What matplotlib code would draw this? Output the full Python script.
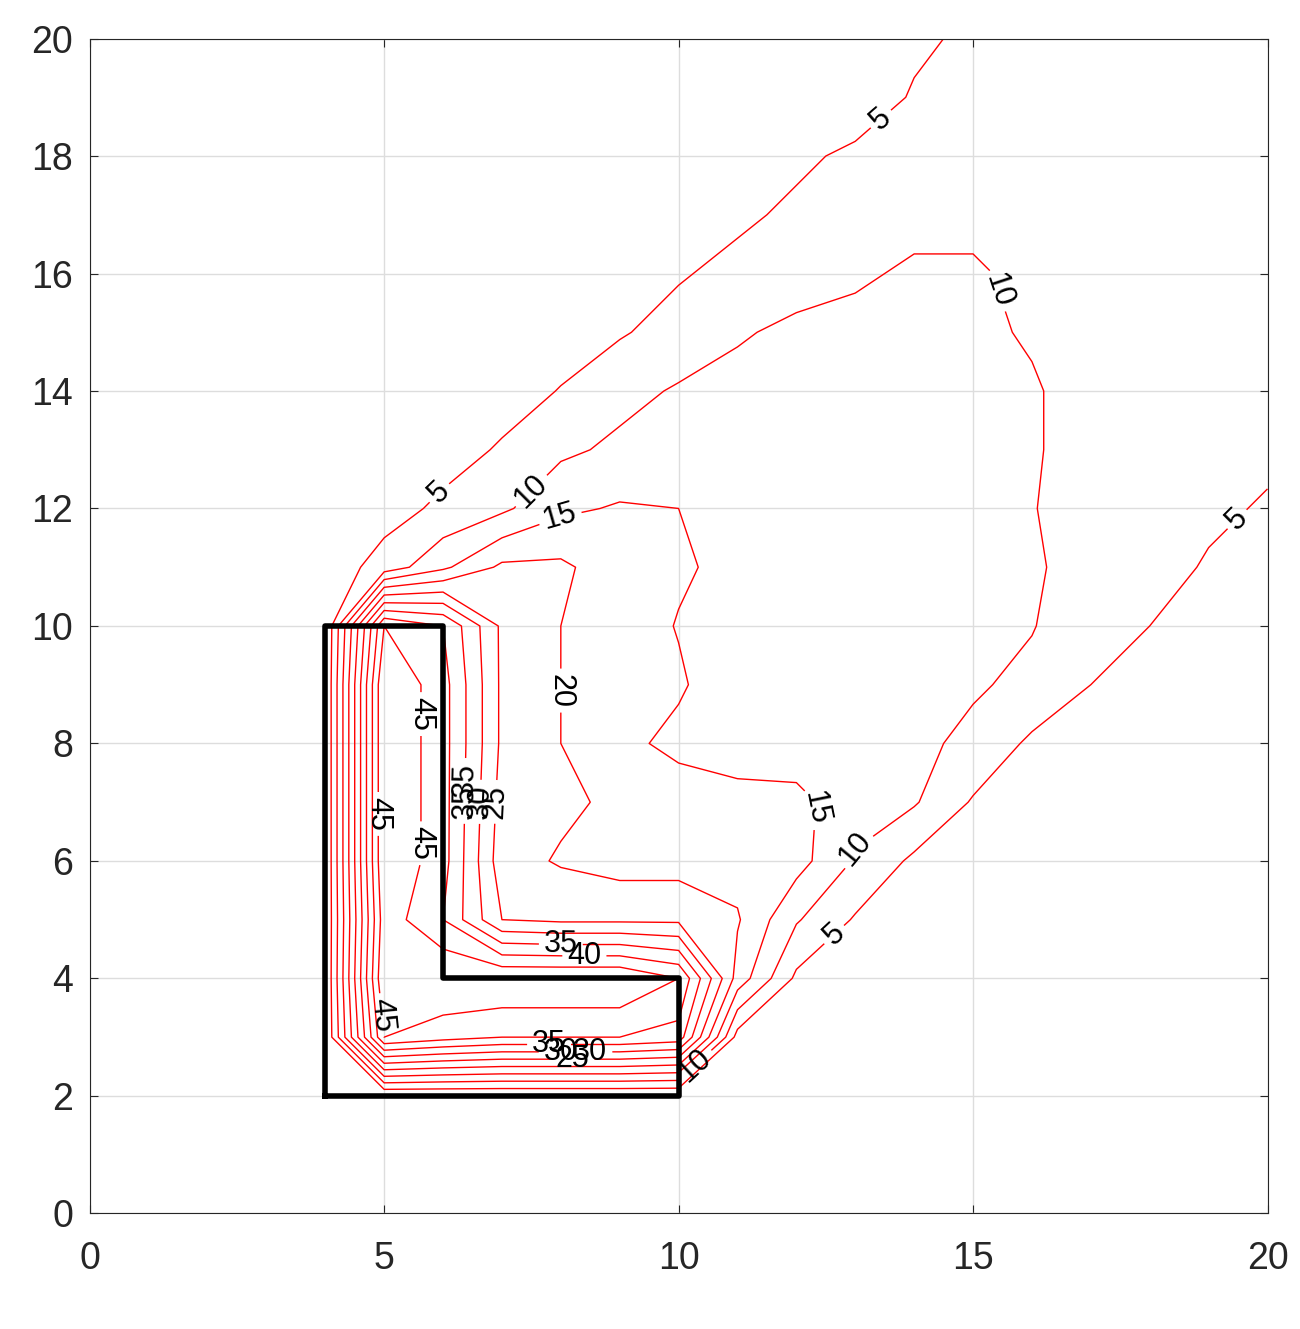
import numpy as np
import matplotlib
matplotlib.use("Agg")
import matplotlib.pyplot as plt

plt.rcParams['font.family'] = ['Liberation Sans', 'DejaVu Sans']

x_grid = list(range(21))
y_grid = list(range(21))
levels = [5, 10, 15, 20, 25, 30, 35, 40, 45, 50]

# field values, rows y=0..20, columns x=0..20
z_rows = [
    [0]*21,
    [0]*21,
    [0]*21,
    [0,0,0,0,0,45,42,40,40,40,38,3,2,2,2,2,2,2,2,2,2],
    [0,0,0,0,0,50,50,50,50,50,45,18,4,2,2,2,2,2,2,2,2],
    [0,0,0,0,0,48,40,25,24,24,24,20.5,10.5,4.5,2,2,2,2,2,2,2],
    [0,0,0,0,0,50,42,22,19.5,18,18,18,17,9.5,4,2,2,2,2,2,2],
    [0,0,0,0,0,50,42,23,21,19,17,17,16.5,12,10.5,4.5,2,2,2,2,2],
    [0,0,0,0,0,50,42,24,20,16,14,12,12,12,11,9,4,2,2,2,2],
    [0,0,0,0,0,50,42,24,20,17,15.5,12.5,12.5,12.5,12.5,10.5,9,5,3,2,2],
    [0,0,0,0,0,45,40,24,20,17,14.8,13,13,13,13,11.5,10.2,7.5,5,3,2],
    [0,0,0,0,2,7,14,21,21,17,15.5,14,13,13,13,12,10.5,8.5,7,4.5,3],
    [0,0,0,0,1,3,6,9,14,15.5,15,13.5,13,13,13,13,10.2,8,7,6,4.5],
    [0,0,0,0,1,2,3,5.5,9,11,13,13,13,13,13,13,10.5,8,7,6.5,6],
    [0,0,0,0,1,2,2,3,5.2,8.5,10.5,11.5,12,12,12,12,10.5,8,7,7,7],
    [0,0,0,0,1,1,2,2,3,4.5,7,9.5,11,11,11,11,9.5,8,7,7,7],
    [0,0,0,0,1,1,1,2,2,3,4.5,6.5,8,9.5,10.5,10.5,9,8,7,7,7],
    [0,0,0,0,1,1,1,1,2,2,3,4,6,8,9,9,8.5,8,8,8,7],
    [0,0,0,0,1,1,1,1,1,2,2,3,4,6,8,8,8,8,8,8,7],
    [0,0,0,0,1,1,1,1,1,1,2,2,2,2,5.5,7,7,7,7,7,7],
    [0,0,0,0,1,1,1,1,1,1,1,2,2,2,4,6,7,7,7,7,7],
]

shape_x = [4, 4, 6, 6, 10, 10, 4]
shape_y = [2, 10, 10, 4, 4, 2, 2]

label_spots = [(13.2, 18.9), (6.2, 12.0), (19.5, 11.8), (12.5, 4.9),
               (7.3, 12.5), (15.4, 15.7), (12.9, 6.3),
               (7.9, 12.1), (12.3, 6.9),
               (8.0, 8.9), (10.3, 2.5),
               (7.0, 7.0), (8.5, 2.7),
               (6.8, 7.0), (8.2, 2.6),
               (6.6, 7.0), (5.8, 8.5), (7.8, 2.9),
               (6.5, 7.2), (8.0, 2.8), (5.2, 3.4),
               (5.2, 6.8), (8.0, 4.5),
               (5.6, 6.3), (8.4, 4.3)]

X, Y = np.meshgrid(x_grid, y_grid)
Z = np.array(z_rows, dtype=float)

fig = plt.figure(figsize=(13, 13.29), dpi=100)
ax = fig.add_axes([0.069, 0.087, 0.906, 0.884])
ax.grid(True, color='#dddddd', lw=1)
ax.set_axisbelow(True)
cs = ax.contour(X, Y, Z, levels=levels, colors='red', linewidths=1)
ax.clabel(cs, fmt='%d', fontsize=22, inline=True, colors='black', manual=label_spots)
ax.plot(shape_x, shape_y, color='black', lw=4)
ax.set_xlim(0, 20)
ax.set_ylim(0, 20)
ax.set_xticks([0, 5, 10, 15, 20])
ax.set_yticks(list(range(0, 21, 2)))
ax.tick_params(labelsize=27, direction='in', length=6, top=True, right=True, colors='#262626')
ax.tick_params(axis='x', pad=20)
ax.tick_params(axis='y', pad=12)
for s in ax.spines.values():
    s.set_color('#262626')
fig.savefig('out.png')
